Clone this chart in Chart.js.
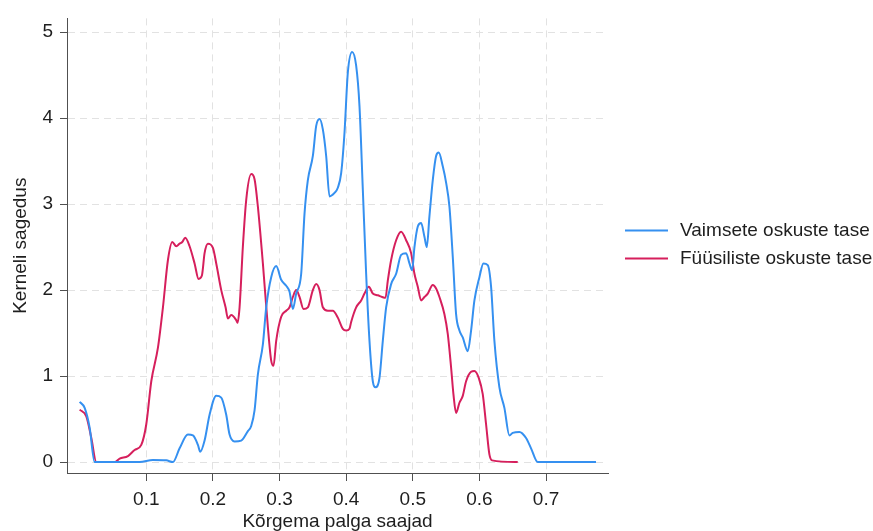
<!DOCTYPE html>
<html>
<head>
<meta charset="utf-8">
<script src="https://cdn.jsdelivr.net/npm/chart.js@4/dist/chart.umd.min.js"></script>
<style>
html,body{margin:0;padding:0;background:#ffffff;}
#wrap{width:873px;height:531px;}
</style>
</head>
<body>
<div id="wrap"><canvas id="c" width="873" height="531"></canvas></div>
<script>
// ---- data ----
const seriesNames = ["Vaimsete oskuste tase", "Füüsiliste oskuste tase"];
const xTitle = "Kõrgema palga saajad";
const yTitle = "Kerneli sagedus";
const xTicks = [0.1, 0.2, 0.3, 0.4, 0.5, 0.6, 0.7];
const xTickLabels = ["0.1", "0.2", "0.3", "0.4", "0.5", "0.6", "0.7"];
const yTicks = [0, 1, 2, 3, 4, 5];
const yTickLabels = ["0", "1", "2", "3", "4", "5"];

const blueX = [0.000,0.0075,0.015,0.0225,0.05,0.09,0.11,0.13,0.14,0.15,0.1625,0.17,0.1775,0.181,0.1875,0.195,0.205,0.2125,0.22,0.225,0.2325,0.2425,0.2525,0.2575,0.2625,0.2675,0.275,0.28,0.2875,0.295,0.3025,0.31,0.315,0.32,0.325,0.3325,0.3375,0.3425,0.35,0.355,0.36,0.365,0.37,0.375,0.3825,0.3875,0.3925,0.3975,0.4025,0.409,0.415,0.42,0.425,0.43,0.435,0.44,0.444,0.45,0.455,0.46,0.4675,0.475,0.4825,0.49,0.495,0.499,0.5025,0.5075,0.5125,0.5175,0.521,0.525,0.53,0.535,0.539,0.545,0.55,0.555,0.56,0.565,0.57,0.575,0.5825,0.5875,0.5925,0.6,0.606,0.6125,0.6175,0.6225,0.63,0.6375,0.645,0.65,0.66,0.67,0.6775,0.6875,0.775];
const blueY = [0.70,0.63,0.40,0.00,0.00,0.00,0.025,0.02,0.00,0.16,0.32,0.31,0.20,0.12,0.25,0.55,0.77,0.75,0.55,0.32,0.24,0.25,0.36,0.42,0.60,1.02,1.37,1.80,2.15,2.28,2.12,2.05,1.98,1.78,1.96,2.19,2.89,3.28,3.56,3.91,3.99,3.87,3.56,3.09,3.13,3.19,3.36,3.83,4.53,4.77,4.61,4.14,3.17,2.19,1.41,0.94,0.87,0.98,1.41,1.80,2.07,2.19,2.41,2.43,2.31,2.23,2.50,2.74,2.78,2.62,2.50,2.86,3.28,3.56,3.60,3.44,3.25,2.97,2.39,1.72,1.53,1.45,1.29,1.53,1.88,2.15,2.31,2.29,2.04,1.41,0.87,0.63,0.31,0.34,0.35,0.28,0.16,0.00,0.00];

const redX = [0.000,0.01,0.0175,0.025,0.0525,0.06,0.0725,0.0825,0.0925,0.1,0.1075,0.1175,0.125,0.1325,0.139,0.145,0.15,0.154,0.1585,0.165,0.1725,0.1785,0.1835,0.1875,0.1925,0.2,0.205,0.2125,0.219,0.2225,0.2275,0.235,0.237,0.24,0.245,0.25,0.2575,0.2625,0.2675,0.275,0.2825,0.2875,0.291,0.295,0.3025,0.31,0.315,0.32,0.325,0.33,0.336,0.3425,0.35,0.355,0.36,0.365,0.3725,0.38,0.3875,0.395,0.4,0.405,0.4075,0.415,0.4225,0.4275,0.434,0.44,0.4475,0.454,0.459,0.4625,0.4675,0.475,0.4825,0.49,0.4975,0.5025,0.5075,0.5125,0.5175,0.5225,0.53,0.535,0.54,0.5475,0.5525,0.5575,0.561,0.565,0.57,0.575,0.58,0.5875,0.5925,0.599,0.605,0.61,0.615,0.619,0.6575];
const redY = [0.61,0.53,0.28,0.00,0.00,0.04,0.07,0.14,0.20,0.44,0.94,1.33,1.80,2.35,2.56,2.51,2.54,2.56,2.61,2.51,2.31,2.13,2.17,2.43,2.54,2.49,2.31,2.00,1.80,1.67,1.71,1.65,1.62,1.80,2.51,3.05,3.35,3.29,2.97,2.31,1.57,1.18,1.12,1.41,1.69,1.76,1.80,1.92,2.00,1.92,1.78,1.80,2.00,2.07,2.00,1.80,1.76,1.76,1.68,1.55,1.53,1.55,1.63,1.80,1.88,1.96,2.04,1.96,1.94,1.92,1.91,2.11,2.35,2.58,2.68,2.58,2.43,2.19,2.04,1.88,1.92,1.96,2.06,2.02,1.92,1.72,1.49,1.10,0.79,0.57,0.69,0.77,0.94,1.05,1.06,0.98,0.79,0.44,0.09,0.02,0.00];

// ---- styling / layout ----
const FONT = '"Liberation Sans", Arial, Helvetica, sans-serif';
const BLUE = '#3590f0';
const RED = '#d61f5c';
const GRID = '#e2e2e2';
const AXIS = '#505050';
const TXT = '#1e1e1e';
const FS = 19;

Chart.defaults.font.family = FONT;
Chart.defaults.color = TXT;

// legend drawn at the right of the plot, from the datasets' own labels/colours
const sideLegend = {
  id: 'sideLegend',
  afterDraw(chart) {
    const ctx = chart.ctx;
    const x0 = 625, y0 = 230.5, dy = 28, lineW = 43, textGap = 12;
    ctx.save();
    ctx.font = FS + 'px ' + FONT;
    ctx.textBaseline = 'middle';
    ctx.textAlign = 'left';
    chart.data.datasets.forEach((d, i) => {
      const y = y0 + i * dy;
      ctx.strokeStyle = d.borderColor;
      ctx.lineWidth = 2;
      ctx.beginPath();
      ctx.moveTo(x0, y);
      ctx.lineTo(x0 + lineW, y);
      ctx.stroke();
      ctx.fillStyle = TXT;
      ctx.fillText(d.label, x0 + lineW + textGap, y);
    });
    ctx.restore();
  }
};

const ds = (name, xs, ys, col) => ({
  label: name,
  data: xs.map((x, i) => ({x: x, y: ys[i]})),
  borderColor: col,
  backgroundColor: col,
  borderWidth: 2,
  pointRadius: 0,
  pointHoverRadius: 0,
  fill: false,
  cubicInterpolationMode: 'monotone'
});

new Chart(document.getElementById('c'), {
  type: 'line',
  data: {
    datasets: [
      ds(seriesNames[0], blueX, blueY, BLUE),
      ds(seriesNames[1], redX, redY, RED)
    ]
  },
  plugins: [sideLegend],
  options: {
    responsive: false,
    animation: false,
    devicePixelRatio: 1,
    layout: {padding: {top: 15, right: 873 - 608, left: 0, bottom: 0}},
    plugins: {
      legend: {display: false},
      tooltip: {enabled: false}
    },
    scales: {
      x: {
        type: 'linear',
        min: -0.019,
        max: 0.793,
        afterBuildTicks: s => { s.ticks = xTicks.map(v => ({value: v})); },
        afterFit: s => { s.height = 531 - 473; },
        grid: {color: GRID, lineWidth: 1, tickColor: AXIS, tickLength: 8, tickWidth: 1},
        border: {display: true, color: AXIS, width: 1, dash: [7, 5]},
        ticks: {
          color: TXT, font: {size: FS}, padding: 7, maxRotation: 0, autoSkip: false,
          callback: (v, i) => xTickLabels[i]
        },
        title: {display: true, text: xTitle, color: TXT, font: {size: FS}, padding: {top: 0, bottom: -2}}
      },
      y: {
        type: 'linear',
        position: 'left',
        min: -0.127,
        max: 5.16,
        afterBuildTicks: s => { s.ticks = yTicks.map(v => ({value: v})); },
        afterFit: s => { s.width = 67; },
        grid: {color: GRID, lineWidth: 1, tickColor: AXIS, tickLength: 7, tickWidth: 1},
        border: {display: true, color: AXIS, width: 1, dash: [7, 5]},
        ticks: {
          color: TXT, font: {size: FS}, padding: 7,
          callback: (v, i) => yTickLabels[i]
        },
        title: {display: true, text: yTitle, color: TXT, font: {size: FS}, padding: {top: 9, bottom: 0}}
      }
    }
  }
});
</script>
</body>
</html>
